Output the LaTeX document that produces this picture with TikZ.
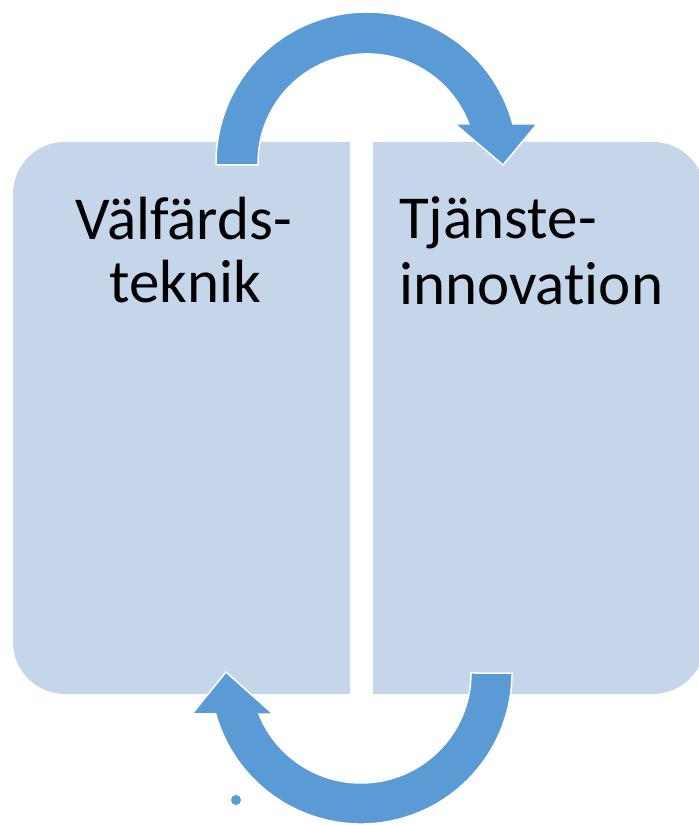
\documentclass[tikz,border=0pt]{standalone}
\usepackage{fontspec}
\setmainfont{Carlito}[Ligatures={NoCommon}]
\definecolor{boxfill}{HTML}{C5D5EA}
\definecolor{arrowblue}{HTML}{5B9BD5}
\tikzset{
  panel/.style={fill=boxfill},
  bigarrow/.style={fill=arrowblue, draw=white, line width=1.5pt, line join=miter},
  label/.style={font=\fontsize{61}{63}\selectfont, inner sep=0pt, text=black},
}
\begin{document}
\begin{tikzpicture}[x=1pt,y=1pt]
\useasboundingbox (0,0) rectangle (699,825);
% left panel
\fill[panel] (350,131) -- (65,131) arc[start angle=270,end angle=180,radius=52]
  -- (13,631) arc[start angle=180,end angle=90,radius=52] -- (350,683) -- cycle;
% right panel
\fill[panel] (373,131) -- (653,131) arc[start angle=270,end angle=360,radius=52]
  -- (705,631) arc[start angle=0,end angle=90,radius=52] -- (373,683) -- cycle;
% top arrow
\draw[bigarrow] (216,660) -- (216,662) arc[start angle=180,end angle=15,radius=151]
  -- (537,701) -- (503,660) -- (455,701)
  -- (468.8,701.1) arc[start angle=21,end angle=180,radius=109] -- (258,660) -- cycle;
% bottom arrow
\draw[bigarrow] (471,152) arc[start angle=0,end angle=-158.1,radius=110]
  -- (273,111) -- (226,153) -- (192,111)
  -- (215.7,111) arc[start angle=-164.25,end angle=0,radius=151] -- cycle;
% small dot
\fill[arrowblue] (236,25) circle[radius=5];
% texts
\node[label, anchor=base] (v1) at (184,585) {Välfärds-};
\node[label, anchor=base] (v2) at (185,522) {teknik};
\node[label, anchor=base west] (t1) at (399,586) {Tjänste-};
\node[label, anchor=base west] (t2) at (399,520) {innovation};
\end{tikzpicture}
\end{document}
